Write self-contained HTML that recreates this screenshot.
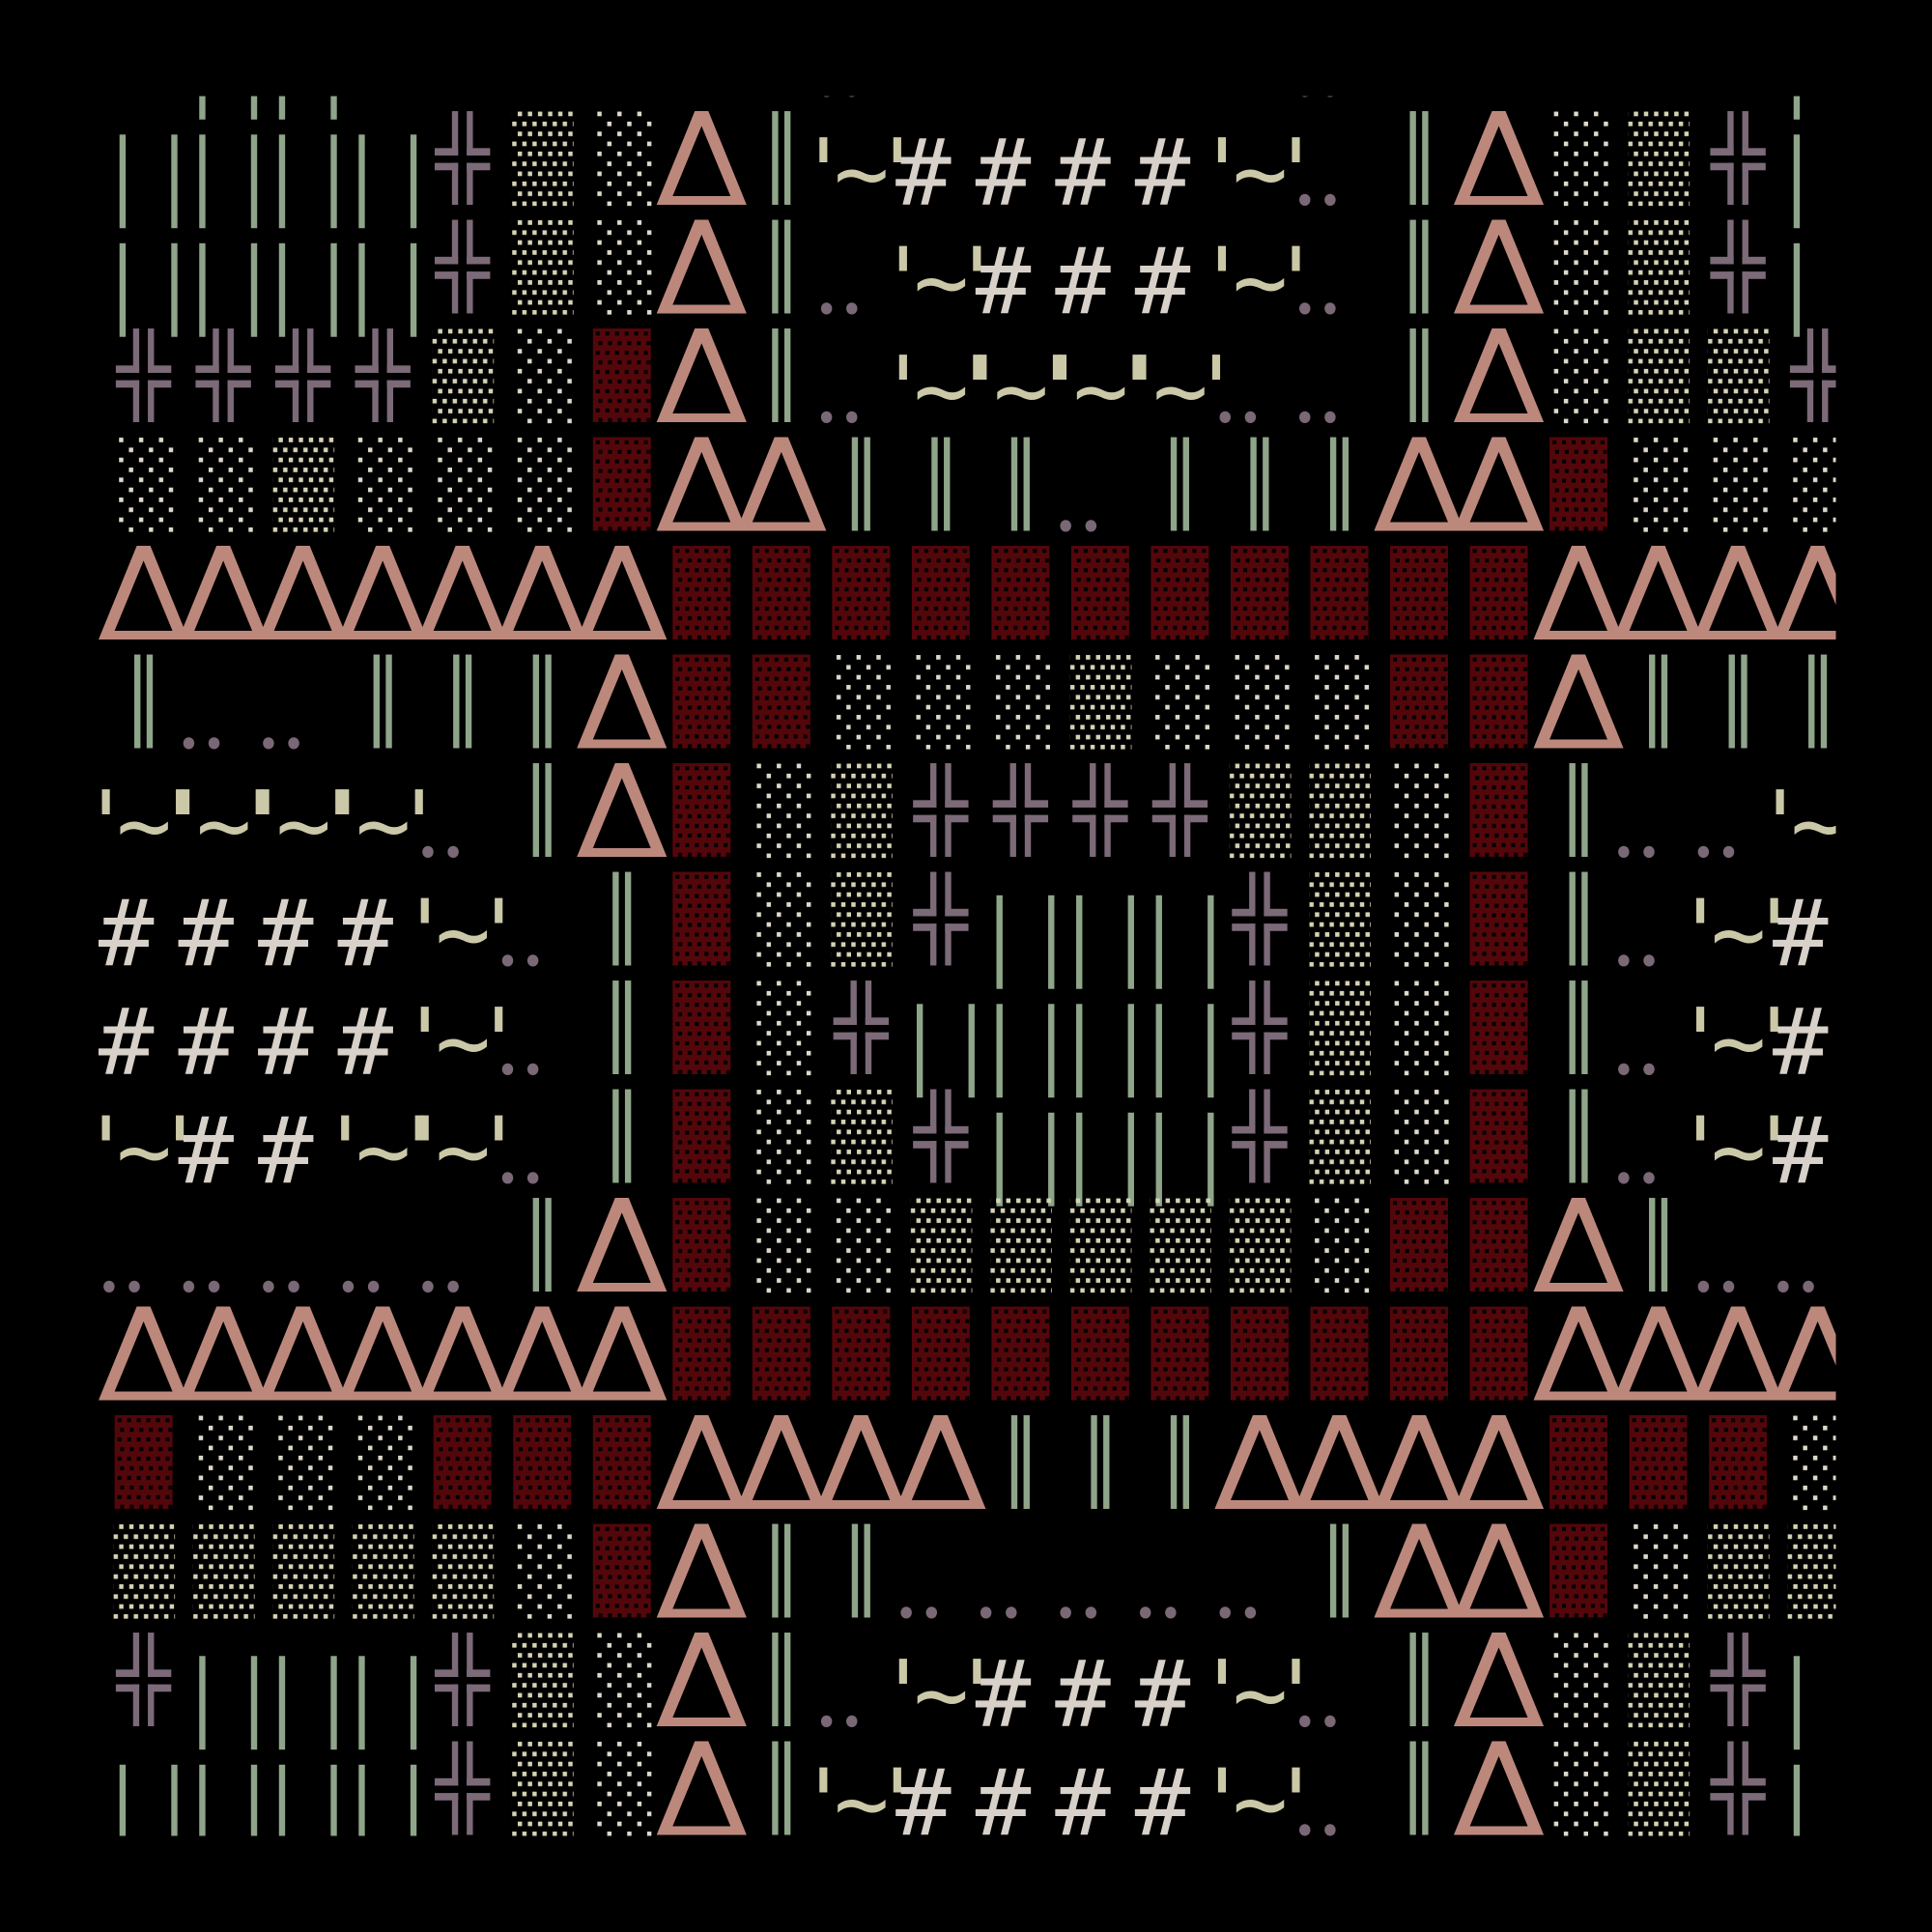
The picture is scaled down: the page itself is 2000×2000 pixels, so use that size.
<!DOCTYPE html>
<html><head><meta charset="utf-8"><style>
html,body{margin:0;padding:0;background:#000;}
svg{display:block;}
.q{font-family:"DejaVu Sans Mono","Liberation Mono",monospace;font-size:75px;fill:#cbc8a8;text-anchor:middle;}
.h{font-family:"DejaVu Sans Mono","Liberation Mono",monospace;font-size:75px;fill:#d8d1ca;text-anchor:middle;}
</style></head><body>
<svg xmlns="http://www.w3.org/2000/svg" width="2000" height="2000" viewBox="0 0 1568 1568">
<defs>
<clipPath id="cp"><rect x="80" y="78" width="1410" height="1412"/></clipPath>
<pattern id="pd" patternUnits="userSpaceOnUse" x="12" y="0" width="8.2" height="16.2"><rect x="4.7" y="0.4" width="3.5" height="3.7" fill="#d6d3b4"/><rect x="0.2" y="8.5" width="3.5" height="3.7" fill="#d6d3b4"/></pattern>
<pattern id="ps" patternUnits="userSpaceOnUse" x="15" y="0" width="16.2" height="16.2"><rect x="1.6" y="0.4" width="3.5" height="3.7" fill="#dedacb"/><rect x="9.6" y="8.5" width="3.5" height="3.7" fill="#dedacb"/></pattern>
<pattern id="pr" patternUnits="userSpaceOnUse" x="13" y="0" width="7.8" height="15.6"><rect x="2.4" y="2.5" width="3.2" height="3.2" fill="#000"/><rect x="4.5" y="10.3" width="3.2" height="3.2" fill="#000"/></pattern>
<g id="t"><path d="M0,76 L31,0 L42,0 L73,76 Z M13,69 L60,69 L36.5,12 Z" fill-rule="evenodd" fill="#bd887c"/></g>
<g id="b" fill="#8fa58a"><rect x="17" y="19" width="5" height="76"/><rect x="59" y="19" width="5" height="76"/></g>
<g id="p" fill="#8fa58a"><rect x="29" y="0" width="5" height="76"/><rect x="39" y="0" width="5" height="76"/></g>
<g id="h" fill="#7c6a78"><rect x="28" y="0" width="5" height="36"/><rect x="14" y="30" width="19" height="6"/><rect x="40" y="0" width="5" height="36"/><rect x="40" y="30" width="19" height="6"/><rect x="14" y="42" width="19" height="6"/><rect x="28" y="42" width="5" height="34"/><rect x="40" y="42" width="19" height="6"/><rect x="40" y="42" width="5" height="34"/></g>
<g id="d"><rect x="12" y="0" width="50" height="77" fill="url(#pd)"/></g>
<g id="s"><rect x="15" y="0" width="46" height="77" fill="url(#ps)"/></g>
<g id="r"><rect x="13" y="0" width="47" height="76" fill="#53070b"/><rect x="13" y="0" width="47" height="76" fill="url(#pr)"/></g>
<g id="o" fill="#7a6876"><ellipse cx="8.5" cy="72" rx="4.5" ry="4.8"/><ellipse cx="29" cy="72" rx="4.5" ry="4.8"/></g>
</defs>
<rect width="1568" height="1568" fill="#000"/>
<g clip-path="url(#cp)">

<g transform="translate(0,2)">
<use href="#b" x="144.7"/><use href="#b" x="209.4"/><use href="#o" x="662.3"/><use href="#o" x="1050.5"/><use href="#b" x="1438.7"/>
</g>

<g transform="translate(0,90.2)">
<use href="#b" x="80"/><use href="#b" x="144.7"/><use href="#b" x="209.4"/><use href="#b" x="274.1"/><use href="#h" x="338.8"/><use href="#d" x="403.5"/><use href="#s" x="468.2"/><use href="#t" x="532.9"/><use href="#p" x="597.6"/><use href="#o" x="1050.5"/><use href="#p" x="1115.2"/><use href="#t" x="1179.9"/><use href="#s" x="1244.6"/><use href="#d" x="1309.3"/><use href="#h" x="1374"/><use href="#b" x="1438.7"/>
<text class="q" x="668.3 699.3 728.3 991.8 1022.8 1051.8" y="76">'~''~'</text>
<text class="h" x="749.5 814.2 878.9 943.6" y="76">####</text>
</g>

<g transform="translate(0,178.4)">
<use href="#b" x="80"/><use href="#b" x="144.7"/><use href="#b" x="209.4"/><use href="#b" x="274.1"/><use href="#h" x="338.8"/><use href="#d" x="403.5"/><use href="#s" x="468.2"/><use href="#t" x="532.9"/><use href="#p" x="597.6"/><use href="#o" x="662.3"/><use href="#o" x="1050.5"/><use href="#p" x="1115.2"/><use href="#t" x="1179.9"/><use href="#s" x="1244.6"/><use href="#d" x="1309.3"/><use href="#h" x="1374"/><use href="#b" x="1438.7"/>
<text class="q" x="733 764 793 991.8 1022.8 1051.8" y="76">'~''~'</text>
<text class="h" x="814.2 878.9 943.6" y="76">###</text>
</g>

<g transform="translate(0,266.6)">
<use href="#h" x="80"/><use href="#h" x="144.7"/><use href="#h" x="209.4"/><use href="#h" x="274.1"/><use href="#d" x="338.8"/><use href="#s" x="403.5"/><use href="#r" x="468.2"/><use href="#t" x="532.9"/><use href="#p" x="597.6"/><use href="#o" x="662.3"/><use href="#o" x="985.8"/><use href="#o" x="1050.5"/><use href="#p" x="1115.2"/><use href="#t" x="1179.9"/><use href="#s" x="1244.6"/><use href="#d" x="1309.3"/><use href="#d" x="1374"/><use href="#h" x="1438.7"/>
<text class="q" x="733 764 793 797.7 828.7 857.7 862.4 893.4 922.4 927.1 958.1 987.1" y="76">'~''~''~''~'</text>
</g>

<g transform="translate(0,354.8)">
<use href="#s" x="80"/><use href="#s" x="144.7"/><use href="#d" x="209.4"/><use href="#s" x="274.1"/><use href="#s" x="338.8"/><use href="#s" x="403.5"/><use href="#r" x="468.2"/><use href="#t" x="532.9"/><use href="#t" x="597.6"/><use href="#p" x="662.3"/><use href="#p" x="727"/><use href="#p" x="791.7"/><use href="#o" x="856.4"/><use href="#p" x="921.1"/><use href="#p" x="985.8"/><use href="#p" x="1050.5"/><use href="#t" x="1115.2"/><use href="#t" x="1179.9"/><use href="#r" x="1244.6"/><use href="#s" x="1309.3"/><use href="#s" x="1374"/><use href="#s" x="1438.7"/>
</g>

<g transform="translate(0,443)">
<use href="#t" x="80"/><use href="#t" x="144.7"/><use href="#t" x="209.4"/><use href="#t" x="274.1"/><use href="#t" x="338.8"/><use href="#t" x="403.5"/><use href="#t" x="468.2"/><use href="#r" x="532.9"/><use href="#r" x="597.6"/><use href="#r" x="662.3"/><use href="#r" x="727"/><use href="#r" x="791.7"/><use href="#r" x="856.4"/><use href="#r" x="921.1"/><use href="#r" x="985.8"/><use href="#r" x="1050.5"/><use href="#r" x="1115.2"/><use href="#r" x="1179.9"/><use href="#t" x="1244.6"/><use href="#t" x="1309.3"/><use href="#t" x="1374"/><use href="#t" x="1438.7"/>
</g>

<g transform="translate(0,531.2)">
<use href="#p" x="80"/><use href="#o" x="144.7"/><use href="#o" x="209.4"/><use href="#p" x="274.1"/><use href="#p" x="338.8"/><use href="#p" x="403.5"/><use href="#t" x="468.2"/><use href="#r" x="532.9"/><use href="#r" x="597.6"/><use href="#s" x="662.3"/><use href="#s" x="727"/><use href="#s" x="791.7"/><use href="#d" x="856.4"/><use href="#s" x="921.1"/><use href="#s" x="985.8"/><use href="#s" x="1050.5"/><use href="#r" x="1115.2"/><use href="#r" x="1179.9"/><use href="#t" x="1244.6"/><use href="#p" x="1309.3"/><use href="#p" x="1374"/><use href="#p" x="1438.7"/>
</g>

<g transform="translate(0,619.4)">
<use href="#o" x="338.8"/><use href="#p" x="403.5"/><use href="#t" x="468.2"/><use href="#r" x="532.9"/><use href="#s" x="597.6"/><use href="#d" x="662.3"/><use href="#h" x="727"/><use href="#h" x="791.7"/><use href="#h" x="856.4"/><use href="#h" x="921.1"/><use href="#d" x="985.8"/><use href="#d" x="1050.5"/><use href="#s" x="1115.2"/><use href="#r" x="1179.9"/><use href="#p" x="1244.6"/><use href="#o" x="1309.3"/><use href="#o" x="1374"/>
<text class="q" x="86 117 146 150.7 181.7 210.7 215.4 246.4 275.4 280.1 311.1 340.1 1444.7 1475.7 1504.7" y="76">'~''~''~''~''~'</text>
</g>

<g transform="translate(0,707.6)">
<use href="#o" x="403.5"/><use href="#p" x="468.2"/><use href="#r" x="532.9"/><use href="#s" x="597.6"/><use href="#d" x="662.3"/><use href="#h" x="727"/><use href="#b" x="791.7"/><use href="#b" x="856.4"/><use href="#b" x="921.1"/><use href="#h" x="985.8"/><use href="#d" x="1050.5"/><use href="#s" x="1115.2"/><use href="#r" x="1179.9"/><use href="#p" x="1244.6"/><use href="#o" x="1309.3"/>
<text class="q" x="344.8 375.8 404.8 1380 1411 1440" y="76">'~''~'</text>
<text class="h" x="102.5 167.2 231.9 296.6 1461.2" y="76">#####</text>
</g>

<g transform="translate(0,795.8)">
<use href="#o" x="403.5"/><use href="#p" x="468.2"/><use href="#r" x="532.9"/><use href="#s" x="597.6"/><use href="#h" x="662.3"/><use href="#b" x="727"/><use href="#b" x="791.7"/><use href="#b" x="856.4"/><use href="#b" x="921.1"/><use href="#h" x="985.8"/><use href="#d" x="1050.5"/><use href="#s" x="1115.2"/><use href="#r" x="1179.9"/><use href="#p" x="1244.6"/><use href="#o" x="1309.3"/>
<text class="q" x="344.8 375.8 404.8 1380 1411 1440" y="76">'~''~'</text>
<text class="h" x="102.5 167.2 231.9 296.6 1461.2" y="76">#####</text>
</g>

<g transform="translate(0,884)">
<use href="#o" x="403.5"/><use href="#p" x="468.2"/><use href="#r" x="532.9"/><use href="#s" x="597.6"/><use href="#d" x="662.3"/><use href="#h" x="727"/><use href="#b" x="791.7"/><use href="#b" x="856.4"/><use href="#b" x="921.1"/><use href="#h" x="985.8"/><use href="#d" x="1050.5"/><use href="#s" x="1115.2"/><use href="#r" x="1179.9"/><use href="#p" x="1244.6"/><use href="#o" x="1309.3"/>
<text class="q" x="86 117 146 280.1 311.1 340.1 344.8 375.8 404.8 1380 1411 1440" y="76">'~''~''~''~'</text>
<text class="h" x="167.2 231.9 1461.2" y="76">###</text>
</g>

<g transform="translate(0,972.2)">
<use href="#o" x="80"/><use href="#o" x="144.7"/><use href="#o" x="209.4"/><use href="#o" x="274.1"/><use href="#o" x="338.8"/><use href="#p" x="403.5"/><use href="#t" x="468.2"/><use href="#r" x="532.9"/><use href="#s" x="597.6"/><use href="#s" x="662.3"/><use href="#d" x="727"/><use href="#d" x="791.7"/><use href="#d" x="856.4"/><use href="#d" x="921.1"/><use href="#d" x="985.8"/><use href="#s" x="1050.5"/><use href="#r" x="1115.2"/><use href="#r" x="1179.9"/><use href="#t" x="1244.6"/><use href="#p" x="1309.3"/><use href="#o" x="1374"/><use href="#o" x="1438.7"/>
</g>

<g transform="translate(0,1060.4)">
<use href="#t" x="80"/><use href="#t" x="144.7"/><use href="#t" x="209.4"/><use href="#t" x="274.1"/><use href="#t" x="338.8"/><use href="#t" x="403.5"/><use href="#t" x="468.2"/><use href="#r" x="532.9"/><use href="#r" x="597.6"/><use href="#r" x="662.3"/><use href="#r" x="727"/><use href="#r" x="791.7"/><use href="#r" x="856.4"/><use href="#r" x="921.1"/><use href="#r" x="985.8"/><use href="#r" x="1050.5"/><use href="#r" x="1115.2"/><use href="#r" x="1179.9"/><use href="#t" x="1244.6"/><use href="#t" x="1309.3"/><use href="#t" x="1374"/><use href="#t" x="1438.7"/>
</g>

<g transform="translate(0,1148.6)">
<use href="#r" x="80"/><use href="#s" x="144.7"/><use href="#s" x="209.4"/><use href="#s" x="274.1"/><use href="#r" x="338.8"/><use href="#r" x="403.5"/><use href="#r" x="468.2"/><use href="#t" x="532.9"/><use href="#t" x="597.6"/><use href="#t" x="662.3"/><use href="#t" x="727"/><use href="#p" x="791.7"/><use href="#p" x="856.4"/><use href="#p" x="921.1"/><use href="#t" x="985.8"/><use href="#t" x="1050.5"/><use href="#t" x="1115.2"/><use href="#t" x="1179.9"/><use href="#r" x="1244.6"/><use href="#r" x="1309.3"/><use href="#r" x="1374"/><use href="#s" x="1438.7"/>
</g>

<g transform="translate(0,1236.8)">
<use href="#d" x="80"/><use href="#d" x="144.7"/><use href="#d" x="209.4"/><use href="#d" x="274.1"/><use href="#d" x="338.8"/><use href="#s" x="403.5"/><use href="#r" x="468.2"/><use href="#t" x="532.9"/><use href="#p" x="597.6"/><use href="#p" x="662.3"/><use href="#o" x="727"/><use href="#o" x="791.7"/><use href="#o" x="856.4"/><use href="#o" x="921.1"/><use href="#o" x="985.8"/><use href="#p" x="1050.5"/><use href="#t" x="1115.2"/><use href="#t" x="1179.9"/><use href="#r" x="1244.6"/><use href="#s" x="1309.3"/><use href="#d" x="1374"/><use href="#d" x="1438.7"/>
</g>

<g transform="translate(0,1325)">
<use href="#h" x="80"/><use href="#b" x="144.7"/><use href="#b" x="209.4"/><use href="#b" x="274.1"/><use href="#h" x="338.8"/><use href="#d" x="403.5"/><use href="#s" x="468.2"/><use href="#t" x="532.9"/><use href="#p" x="597.6"/><use href="#o" x="662.3"/><use href="#o" x="1050.5"/><use href="#p" x="1115.2"/><use href="#t" x="1179.9"/><use href="#s" x="1244.6"/><use href="#d" x="1309.3"/><use href="#h" x="1374"/><use href="#b" x="1438.7"/>
<text class="q" x="733 764 793 991.8 1022.8 1051.8" y="76">'~''~'</text>
<text class="h" x="814.2 878.9 943.6" y="76">###</text>
</g>

<g transform="translate(0,1413.2)">
<use href="#b" x="80"/><use href="#b" x="144.7"/><use href="#b" x="209.4"/><use href="#b" x="274.1"/><use href="#h" x="338.8"/><use href="#d" x="403.5"/><use href="#s" x="468.2"/><use href="#t" x="532.9"/><use href="#p" x="597.6"/><use href="#o" x="1050.5"/><use href="#p" x="1115.2"/><use href="#t" x="1179.9"/><use href="#s" x="1244.6"/><use href="#d" x="1309.3"/><use href="#h" x="1374"/><use href="#b" x="1438.7"/>
<text class="q" x="668.3 699.3 728.3 991.8 1022.8 1051.8" y="76">'~''~'</text>
<text class="h" x="749.5 814.2 878.9 943.6" y="76">####</text>
</g>

</g>
</svg>
</body></html>
